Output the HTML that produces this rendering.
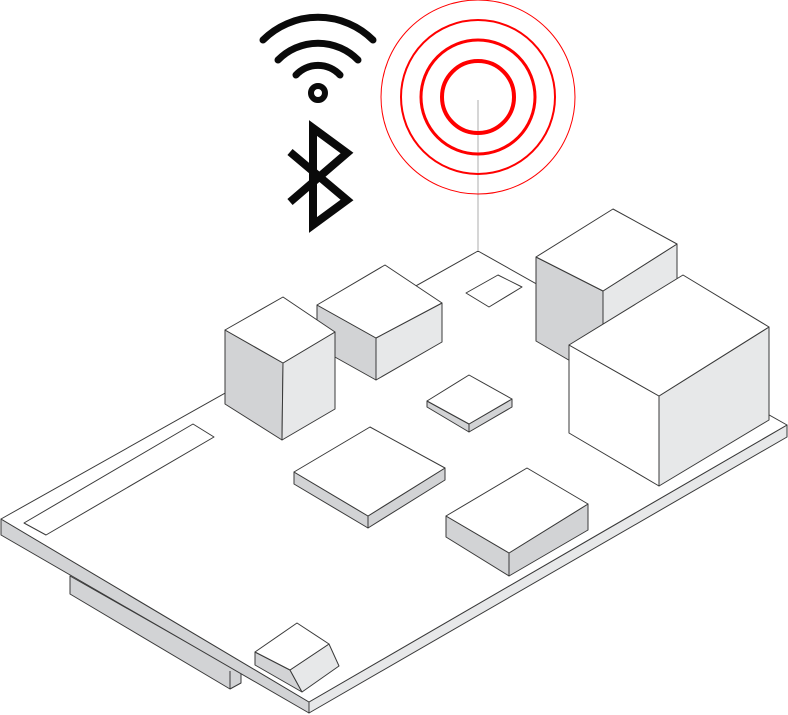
<!DOCTYPE html>
<html><head><meta charset="utf-8"><style>html,body{margin:0;padding:0;background:#fff}svg{display:block}</style></head>
<body>
<svg width="788" height="715" viewBox="0 0 788 715" xmlns="http://www.w3.org/2000/svg">
<g stroke="#3a3a3a" stroke-width="1" stroke-linejoin="round">
<!-- under connector -->
<polygon points="70,576 241,673 241,683 230,689 70,594" fill="#d2d3d5"/>
<line x1="230" y1="671" x2="230" y2="689"/>
<!-- board -->
<polygon points="1,519 309,702 309,713 1,535" fill="#d2d3d5"/>
<polygon points="309,702 787,425 787,437 309,713" fill="#e7e8e9"/>
<polygon points="478,251 787,425 309,702 1,519" fill="#fff"/>
<!-- slot -->
<polygon points="193,424 214,437 46,535 24,523" fill="#fff"/>
<!-- pad -->
<polygon points="466,293 498,275 522,287 489,307" fill="#fff"/>
<!-- back-right block -->
<polygon points="536,257 603,291 603,380 536,341" fill="#d2d3d5"/>
<polygon points="603,291 677,244 677,340 603,380" fill="#e7e8e9"/>
<polygon points="536,257 613,209 677,244 603,291" fill="#fff"/>
<!-- big cube -->
<polygon points="569,345 659,396 659,486 569,433" fill="#fff"/>
<polygon points="659,396 769,327 769,420 659,486" fill="#e7e8e9"/>
<polygon points="569,345 683,275 769,327 659,396" fill="#fff"/>
<!-- block 2 -->
<polygon points="317,305 376,338 376,380 317,347" fill="#d2d3d5"/>
<polygon points="376,338 442,303 442,342 376,380" fill="#e7e8e9"/>
<polygon points="317,305 385,265 442,303 376,338" fill="#fff"/>
<!-- tall cube -->
<polygon points="225,330 283,363 282,440 225,404" fill="#d2d3d5"/>
<polygon points="283,363 335,332 335,409 282,440" fill="#e7e8e9"/>
<polygon points="225,330 283,297 335,332 283,363" fill="#fff"/>
<!-- small chip -->
<polygon points="427,401 469,424 469,432 427,407" fill="#d2d3d5"/>
<polygon points="469,424 512,399 512,407 469,432" fill="#d2d3d5"/>
<polygon points="427,401 469,375 512,399 469,424" fill="#fff"/>
<!-- big left chip -->
<polygon points="294,472 368,516 368,528 294,484" fill="#d2d3d5"/>
<polygon points="368,516 445,468 445,480 368,528" fill="#d2d3d5"/>
<polygon points="294,472 370,427 445,468 368,516" fill="#fff"/>
<!-- right front chip -->
<polygon points="446,516 509,553 509,576 446,537" fill="#d2d3d5"/>
<polygon points="509,553 588,504 588,530 509,576" fill="#d2d3d5"/>
<polygon points="446,516 527,468 588,504 509,553" fill="#fff"/>
<!-- button -->
<polygon points="255,652 290,670 302,692 255,665" fill="#d2d3d5"/>
<polygon points="290,670 329,644 339,666 302,692" fill="#e7e8e9"/>
<polygon points="255,652 297,623 329,644 290,670" fill="#fff"/>
</g>
<line x1="478" y1="100" x2="478" y2="251" stroke="#c8c8c8" stroke-width="1.5"/>
<g fill="none" stroke="#f00">
<circle cx="478" cy="97" r="36" stroke-width="4"/>
<circle cx="478" cy="97" r="57" stroke-width="3"/>
<circle cx="478" cy="97" r="77" stroke-width="2"/>
<circle cx="478" cy="97" r="97" stroke-width="1"/>
</g>
<g fill="none" stroke="#0a0a0a" stroke-width="7" stroke-linecap="round">
<path d="M263,40 A78,78 0 0 1 373,40"/>
<path d="M278,60 A56,56 0 0 1 358,60"/>
<path d="M296,75 A30,30 0 0 1 340,75"/>
</g>
<circle cx="318" cy="93" r="7" fill="none" stroke="#0a0a0a" stroke-width="6"/>
<polyline points="290,152 347,200 313,225 313,128 347,153 290,202" fill="none" stroke="#0a0a0a" stroke-width="8" stroke-linejoin="miter"/>
</svg>
</body></html>
